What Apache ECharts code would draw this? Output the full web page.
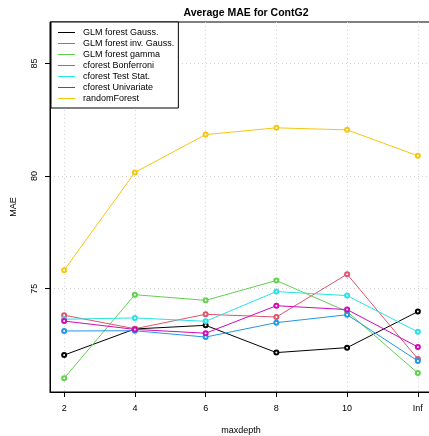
<!DOCTYPE html>
<html>
<head>
<meta charset="utf-8">
<script src="https://cdn.jsdelivr.net/npm/echarts@6/dist/echarts.min.js"></script>
<style>
  html, body { margin: 0; padding: 0; background: #fff; }
  #main { width: 429px; height: 436px; }
</style>
</head>
<body>
<div id="main"></div>
<script>
// x tick labels (maxdepth)
var categories = ['2', '4', '6', '8', '10', 'Inf'];
var yTicks = [75, 80, 85];

var glmGauss    = [72.05, 73.21, 73.37, 72.16, 72.38, 73.98];
var glmInvGauss = [73.82, 73.22, 73.86, 73.74, 75.64, 71.88];
var glmGamma    = [71.02, 74.73, 74.48, 75.36, 73.98, 71.25];
var cfBonf      = [73.12, 73.13, 72.85, 73.49, 73.84, 71.79];
var cfTestStat  = [73.64, 73.70, 73.55, 74.87, 74.69, 73.08];
var cfUniv      = [73.56, 73.19, 73.02, 74.24, 74.07, 72.41];
var randomForest = [75.82, 80.16, 81.84, 82.14, 82.05, 80.90];

var seriesNames = ['GLM forest Gauss.', 'GLM forest inv. Gauss.', 'GLM forest gamma',
  'cforest Bonferroni', 'cforest Test Stat.', 'cforest Univariate', 'randomForest'];
var seriesData = [glmGauss, glmInvGauss, glmGamma, cfBonf, cfTestStat, cfUniv, randomForest];
var colors = ['#000000', '#DF536B', '#61D04F', '#2297E6', '#28E2E5', '#CD0BBC', '#F5C710'];

var font = 'Liberation Sans, Arial, Helvetica, sans-serif';
var xPos = categories.map(function (c, i) { return i + 1; });

var myChart = echarts.init(document.getElementById('main'), null, { renderer: 'canvas' });

var option = {
  animation: false,
  backgroundColor: '#fff',
  color: colors,
  title: {
    text: 'Average MAE for ContG2',
    left: 241,
    top: 3,
    textAlign: 'center',
    textStyle: { fontFamily: font, fontSize: 10.5, fontWeight: 'bold', color: '#000' }
  },
  legend: {
    orient: 'vertical',
    left: 51,
    top: 22,
    data: seriesNames,
    icon: 'rect',
    itemWidth: 17,
    itemHeight: 1,
    itemGap: 0,
    itemStyle: { borderWidth: 0 },
    padding: [5, 4, 4, 7],
    backgroundColor: '#fff',
    borderColor: '#000',
    borderWidth: 1,
    borderRadius: 0,
    textStyle: { fontFamily: font, fontSize: 9, color: '#000', lineHeight: 11, padding: [0, 0, 0, 3] }
  },
  grid: {
    left: 50,
    width: 382,
    top: 22,
    height: 370,
    show: true,
    borderColor: '#000',
    borderWidth: 1,
    containLabel: false,
    outerBoundsMode: 'none'
  },
  xAxis: {
    type: 'value',
    min: 0.8,
    max: 6.2,
    name: 'maxdepth',
    nameLocation: 'middle',
    nameGap: 34,
    nameTextStyle: { fontFamily: font, fontSize: 9, color: '#000' },
    axisLine: { show: true, onZero: false, lineStyle: { color: '#000', width: 1 } },
    axisTick: { show: true, length: 5, customValues: xPos, lineStyle: { color: '#000' } },
    axisLabel: {
      customValues: xPos,
      margin: 12,
      fontFamily: font, fontSize: 9, color: '#000',
      formatter: function (v) { return categories[Math.round(v) - 1]; }
    },
    splitLine: { show: true, lineStyle: { color: '#d3d3d3', type: [1, 3], width: 1 } }
  },
  yAxis: {
    type: 'value',
    min: 70.41,
    max: 86.84,
    name: 'MAE',
    nameLocation: 'middle',
    nameGap: 32,
    nameTextStyle: { fontFamily: font, fontSize: 9, color: '#000' },
    axisLine: { show: true, onZero: false, lineStyle: { color: '#000', width: 1 } },
    axisTick: { show: true, length: 5, customValues: yTicks, lineStyle: { color: '#000' } },
    axisLabel: {
      customValues: yTicks,
      rotate: 90,
      margin: 11,
      fontFamily: font, fontSize: 9, color: '#000'
    },
    splitLine: { show: true, lineStyle: { color: '#d3d3d3', type: [1, 3], width: 1 } }
  },
  series: seriesNames.map(function (name, k) {
    return {
      name: name,
      type: 'line',
      data: seriesData[k].map(function (v, i) { return [xPos[i], v]; }),
      symbol: 'emptyCircle',
      symbolSize: 4,
      showAllSymbol: true,
      lineStyle: { width: 1, color: colors[k] },
      itemStyle: { color: colors[k], borderColor: colors[k], borderWidth: 1 },
      emphasis: { disabled: true }
    };
  })
};

option && myChart.setOption(option);
</script>
</body>
</html>
